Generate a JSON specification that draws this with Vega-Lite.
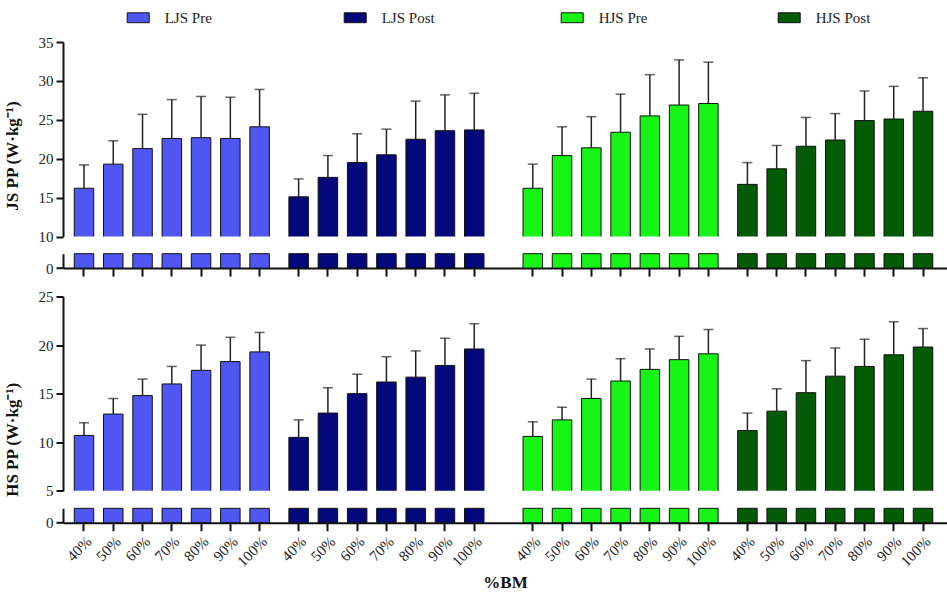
{
  "$schema": "https://vega.github.io/schema/vega-lite/v6.json",
  "padding": {"left": 3, "top": 6, "right": 0, "bottom": 0},
  "config": {
    "font": "Liberation Serif",
    "view": {"stroke": null},
    "axis": {
      "domainColor": "#111", "domainWidth": 2, "tickColor": "#111", "tickWidth": 2,
      "labelFont": "Liberation Serif", "labelFontSize": 15, "labelColor": "#222",
      "grid": false, "tickSize": 7, "labelPadding": 3, "labelOverlap": false
    },
    "legend": {"labelFont": "Liberation Serif", "labelFontSize": 15, "labelColor": "#222"}
  },
  "datasets": {
    "pp": [
      {"metric": "JS", "group": "LJS Pre", "bm": "40%", "id": "LJS Pre|40%", "mean": 16.2, "upper": 19.2},
      {"metric": "JS", "group": "LJS Pre", "bm": "50%", "id": "LJS Pre|50%", "mean": 19.3, "upper": 22.3},
      {"metric": "JS", "group": "LJS Pre", "bm": "60%", "id": "LJS Pre|60%", "mean": 21.3, "upper": 25.7},
      {"metric": "JS", "group": "LJS Pre", "bm": "70%", "id": "LJS Pre|70%", "mean": 22.6, "upper": 27.6},
      {"metric": "JS", "group": "LJS Pre", "bm": "80%", "id": "LJS Pre|80%", "mean": 22.7, "upper": 28.0},
      {"metric": "JS", "group": "LJS Pre", "bm": "90%", "id": "LJS Pre|90%", "mean": 22.6, "upper": 27.9},
      {"metric": "JS", "group": "LJS Pre", "bm": "100%", "id": "LJS Pre|100%", "mean": 24.1, "upper": 28.9},
      {"metric": "JS", "group": "LJS Post", "bm": "40%", "id": "LJS Post|40%", "mean": 15.1, "upper": 17.4},
      {"metric": "JS", "group": "LJS Post", "bm": "50%", "id": "LJS Post|50%", "mean": 17.6, "upper": 20.4},
      {"metric": "JS", "group": "LJS Post", "bm": "60%", "id": "LJS Post|60%", "mean": 19.5, "upper": 23.2},
      {"metric": "JS", "group": "LJS Post", "bm": "70%", "id": "LJS Post|70%", "mean": 20.5, "upper": 23.8},
      {"metric": "JS", "group": "LJS Post", "bm": "80%", "id": "LJS Post|80%", "mean": 22.5, "upper": 27.4},
      {"metric": "JS", "group": "LJS Post", "bm": "90%", "id": "LJS Post|90%", "mean": 23.6, "upper": 28.2},
      {"metric": "JS", "group": "LJS Post", "bm": "100%", "id": "LJS Post|100%", "mean": 23.7, "upper": 28.4},
      {"metric": "JS", "group": "HJS Pre", "bm": "40%", "id": "HJS Pre|40%", "mean": 16.2, "upper": 19.3},
      {"metric": "JS", "group": "HJS Pre", "bm": "50%", "id": "HJS Pre|50%", "mean": 20.4, "upper": 24.1},
      {"metric": "JS", "group": "HJS Pre", "bm": "60%", "id": "HJS Pre|60%", "mean": 21.4, "upper": 25.4},
      {"metric": "JS", "group": "HJS Pre", "bm": "70%", "id": "HJS Pre|70%", "mean": 23.4, "upper": 28.3},
      {"metric": "JS", "group": "HJS Pre", "bm": "80%", "id": "HJS Pre|80%", "mean": 25.5, "upper": 30.8},
      {"metric": "JS", "group": "HJS Pre", "bm": "90%", "id": "HJS Pre|90%", "mean": 26.9, "upper": 32.7},
      {"metric": "JS", "group": "HJS Pre", "bm": "100%", "id": "HJS Pre|100%", "mean": 27.1, "upper": 32.4},
      {"metric": "JS", "group": "HJS Post", "bm": "40%", "id": "HJS Post|40%", "mean": 16.7, "upper": 19.5},
      {"metric": "JS", "group": "HJS Post", "bm": "50%", "id": "HJS Post|50%", "mean": 18.7, "upper": 21.7},
      {"metric": "JS", "group": "HJS Post", "bm": "60%", "id": "HJS Post|60%", "mean": 21.6, "upper": 25.3},
      {"metric": "JS", "group": "HJS Post", "bm": "70%", "id": "HJS Post|70%", "mean": 22.4, "upper": 25.8},
      {"metric": "JS", "group": "HJS Post", "bm": "80%", "id": "HJS Post|80%", "mean": 24.9, "upper": 28.7},
      {"metric": "JS", "group": "HJS Post", "bm": "90%", "id": "HJS Post|90%", "mean": 25.1, "upper": 29.3},
      {"metric": "JS", "group": "HJS Post", "bm": "100%", "id": "HJS Post|100%", "mean": 26.1, "upper": 30.4},
      {"metric": "HS", "group": "LJS Pre", "bm": "40%", "id": "LJS Pre|40%", "mean": 10.7, "upper": 12.0},
      {"metric": "HS", "group": "LJS Pre", "bm": "50%", "id": "LJS Pre|50%", "mean": 12.9, "upper": 14.5},
      {"metric": "HS", "group": "LJS Pre", "bm": "60%", "id": "LJS Pre|60%", "mean": 14.8, "upper": 16.5},
      {"metric": "HS", "group": "LJS Pre", "bm": "70%", "id": "LJS Pre|70%", "mean": 16.0, "upper": 17.8},
      {"metric": "HS", "group": "LJS Pre", "bm": "80%", "id": "LJS Pre|80%", "mean": 17.4, "upper": 20.0},
      {"metric": "HS", "group": "LJS Pre", "bm": "90%", "id": "LJS Pre|90%", "mean": 18.3, "upper": 20.8},
      {"metric": "HS", "group": "LJS Pre", "bm": "100%", "id": "LJS Pre|100%", "mean": 19.3, "upper": 21.3},
      {"metric": "HS", "group": "LJS Post", "bm": "40%", "id": "LJS Post|40%", "mean": 10.5, "upper": 12.3},
      {"metric": "HS", "group": "LJS Post", "bm": "50%", "id": "LJS Post|50%", "mean": 13.0, "upper": 15.6},
      {"metric": "HS", "group": "LJS Post", "bm": "60%", "id": "LJS Post|60%", "mean": 15.0, "upper": 17.0},
      {"metric": "HS", "group": "LJS Post", "bm": "70%", "id": "LJS Post|70%", "mean": 16.2, "upper": 18.8},
      {"metric": "HS", "group": "LJS Post", "bm": "80%", "id": "LJS Post|80%", "mean": 16.7, "upper": 19.4},
      {"metric": "HS", "group": "LJS Post", "bm": "90%", "id": "LJS Post|90%", "mean": 17.9, "upper": 20.7},
      {"metric": "HS", "group": "LJS Post", "bm": "100%", "id": "LJS Post|100%", "mean": 19.6, "upper": 22.2},
      {"metric": "HS", "group": "HJS Pre", "bm": "40%", "id": "HJS Pre|40%", "mean": 10.6, "upper": 12.1},
      {"metric": "HS", "group": "HJS Pre", "bm": "50%", "id": "HJS Pre|50%", "mean": 12.3, "upper": 13.6},
      {"metric": "HS", "group": "HJS Pre", "bm": "60%", "id": "HJS Pre|60%", "mean": 14.5, "upper": 16.5},
      {"metric": "HS", "group": "HJS Pre", "bm": "70%", "id": "HJS Pre|70%", "mean": 16.3, "upper": 18.6},
      {"metric": "HS", "group": "HJS Pre", "bm": "80%", "id": "HJS Pre|80%", "mean": 17.5, "upper": 19.6},
      {"metric": "HS", "group": "HJS Pre", "bm": "90%", "id": "HJS Pre|90%", "mean": 18.5, "upper": 20.9},
      {"metric": "HS", "group": "HJS Pre", "bm": "100%", "id": "HJS Pre|100%", "mean": 19.1, "upper": 21.6},
      {"metric": "HS", "group": "HJS Post", "bm": "40%", "id": "HJS Post|40%", "mean": 11.2, "upper": 13.0},
      {"metric": "HS", "group": "HJS Post", "bm": "50%", "id": "HJS Post|50%", "mean": 13.2, "upper": 15.5},
      {"metric": "HS", "group": "HJS Post", "bm": "60%", "id": "HJS Post|60%", "mean": 15.1, "upper": 18.4},
      {"metric": "HS", "group": "HJS Post", "bm": "70%", "id": "HJS Post|70%", "mean": 16.8, "upper": 19.7},
      {"metric": "HS", "group": "HJS Post", "bm": "80%", "id": "HJS Post|80%", "mean": 17.8, "upper": 20.6},
      {"metric": "HS", "group": "HJS Post", "bm": "90%", "id": "HJS Post|90%", "mean": 19.0, "upper": 22.4},
      {"metric": "HS", "group": "HJS Post", "bm": "100%", "id": "HJS Post|100%", "mean": 19.8, "upper": 21.7}
    ]
  },
  "spacing": 11.5,
  "vconcat": [
    {
      "title": {"text": "JS PP (W·kg⁻¹)", "orient": "left", "anchor": "middle", "fontSize": 17, "fontWeight": "bold", "font": "Liberation Serif", "color": "#111", "offset": 16},
      "bounds": "flush",
      "spacing": 16.7,
      "vconcat": [
        {
          "width": 884, "height": 194.5,
          "data": {"name": "pp"},
          "transform": [{"filter": "datum.metric == 'JS'"}],
          "encoding": {
            "x": {"field": "id", "type": "nominal", "axis": null,
              "scale": {"paddingInner": 0, "paddingOuter": 0.805, "align": 0.405, "domain": ["s_a","LJS Pre|40%","s1","s2","LJS Pre|50%","s4","s5","LJS Pre|60%","s7","s8","LJS Pre|70%","s10","s11","LJS Pre|80%","s13","s14","LJS Pre|90%","s16","s17","LJS Pre|100%","s19","s20","s21","LJS Post|40%","s23","s24","LJS Post|50%","s26","s27","LJS Post|60%","s29","s30","LJS Post|70%","s32","s33","LJS Post|80%","s35","s36","LJS Post|90%","s38","s39","LJS Post|100%","s41","s42","s43","s44","s45","HJS Pre|40%","s47","s48","HJS Pre|50%","s50","s51","HJS Pre|60%","s53","s54","HJS Pre|70%","s56","s57","HJS Pre|80%","s59","s60","HJS Pre|90%","s62","s63","HJS Pre|100%","s65","s66","s67","HJS Post|40%","s69","s70","HJS Post|50%","s72","s73","HJS Post|60%","s75","s76","HJS Post|70%","s78","s79","HJS Post|80%","s81","s82","HJS Post|90%","s84","s85","HJS Post|100%","s_z"]}}
          },
          "layer": [
            {
              "mark": {"type": "bar", "width": 19.5, "stroke": "#111", "strokeWidth": 1, "clip": true},
              "encoding": {
                "y": {"field": "mean", "type": "quantitative", "scale": {"domain": [10, 35], "zero": false, "nice": false}, "axis": {"values": [10, 15, 20, 25, 30, 35], "title": null, "labelOverlap": false}},
                "color": {"field": "group", "type": "nominal",
                  "scale": {"domain": ["LJS Pre", "LJS Post", "HJS Pre", "HJS Post"], "range": ["#4f56f2", "#03087a", "#16f516", "#045b06"]},
                  "legend": {"orient": "none", "legendX": 63.7, "legendY": -36, "direction": "horizontal", "columns": 4, "gridAlign": "all", "columnPadding": 122, "title": null, "symbolType": "M-1,-0.45H1V0.45H-1Z", "symbolSize": 484, "symbolStrokeColor": "#111", "symbolStrokeWidth": 1, "symbolOpacity": 1, "labelFontSize": 15, "labelOffset": 15}}
              }
            },
            {
              "mark": {"type": "rule", "color": "#222", "strokeWidth": 1.5},
              "encoding": {"y": {"field": "mean", "type": "quantitative", "axis": {"values": [10, 15, 20, 25, 30, 35], "title": null, "labelOverlap": false}}, "y2": {"field": "upper"}}
            },
            {
              "mark": {"type": "tick", "color": "#222", "thickness": 1.5, "size": 10},
              "encoding": {"y": {"field": "upper", "type": "quantitative", "axis": {"values": [10, 15, 20, 25, 30, 35], "title": null, "labelOverlap": false}}}
            }
          ]
        },
        {
          "width": 884, "height": 14.4,
          "data": {"name": "pp"},
          "transform": [{"filter": "datum.metric == 'JS'"}],
          "mark": {"type": "bar", "width": 19.5, "stroke": "#111", "strokeWidth": 1},
          "encoding": {
            "x": {"field": "id", "type": "nominal",
              "axis": {"labels": false, "title": null, "tickSize": 8, "values": ["LJS Pre|40%","LJS Pre|50%","LJS Pre|60%","LJS Pre|70%","LJS Pre|80%","LJS Pre|90%","LJS Pre|100%","LJS Post|40%","LJS Post|50%","LJS Post|60%","LJS Post|70%","LJS Post|80%","LJS Post|90%","LJS Post|100%","HJS Pre|40%","HJS Pre|50%","HJS Pre|60%","HJS Pre|70%","HJS Pre|80%","HJS Pre|90%","HJS Pre|100%","HJS Post|40%","HJS Post|50%","HJS Post|60%","HJS Post|70%","HJS Post|80%","HJS Post|90%","HJS Post|100%"]},
              "scale": {"paddingInner": 0, "paddingOuter": 0.805, "align": 0.405, "domain": ["s_a","LJS Pre|40%","s1","s2","LJS Pre|50%","s4","s5","LJS Pre|60%","s7","s8","LJS Pre|70%","s10","s11","LJS Pre|80%","s13","s14","LJS Pre|90%","s16","s17","LJS Pre|100%","s19","s20","s21","LJS Post|40%","s23","s24","LJS Post|50%","s26","s27","LJS Post|60%","s29","s30","LJS Post|70%","s32","s33","LJS Post|80%","s35","s36","LJS Post|90%","s38","s39","LJS Post|100%","s41","s42","s43","s44","s45","HJS Pre|40%","s47","s48","HJS Pre|50%","s50","s51","HJS Pre|60%","s53","s54","HJS Pre|70%","s56","s57","HJS Pre|80%","s59","s60","HJS Pre|90%","s62","s63","HJS Pre|100%","s65","s66","s67","HJS Post|40%","s69","s70","HJS Post|50%","s72","s73","HJS Post|60%","s75","s76","HJS Post|70%","s78","s79","HJS Post|80%","s81","s82","HJS Post|90%","s84","s85","HJS Post|100%","s_z"]}},
            "y": {"datum": 1, "type": "quantitative", "scale": {"domain": [0, 1], "nice": false}, "axis": {"values": [0], "title": null}},
            "color": {"field": "group", "type": "nominal", "legend": null,
              "scale": {"domain": ["LJS Pre", "LJS Post", "HJS Pre", "HJS Post"], "range": ["#4f56f2", "#03087a", "#16f516", "#045b06"]}}
          }
        }
      ]
    },
    {
      "title": {"text": "HS PP (W·kg⁻¹)", "orient": "left", "anchor": "middle", "fontSize": 17, "fontWeight": "bold", "font": "Liberation Serif", "color": "#111", "offset": 16},
      "bounds": "flush",
      "spacing": 16.8,
      "vconcat": [
        {
          "width": 884, "height": 194.3,
          "data": {"name": "pp"},
          "transform": [{"filter": "datum.metric == 'HS'"}],
          "encoding": {
            "x": {"field": "id", "type": "nominal", "axis": null,
              "scale": {"paddingInner": 0, "paddingOuter": 0.805, "align": 0.405, "domain": ["s_a","LJS Pre|40%","s1","s2","LJS Pre|50%","s4","s5","LJS Pre|60%","s7","s8","LJS Pre|70%","s10","s11","LJS Pre|80%","s13","s14","LJS Pre|90%","s16","s17","LJS Pre|100%","s19","s20","s21","LJS Post|40%","s23","s24","LJS Post|50%","s26","s27","LJS Post|60%","s29","s30","LJS Post|70%","s32","s33","LJS Post|80%","s35","s36","LJS Post|90%","s38","s39","LJS Post|100%","s41","s42","s43","s44","s45","HJS Pre|40%","s47","s48","HJS Pre|50%","s50","s51","HJS Pre|60%","s53","s54","HJS Pre|70%","s56","s57","HJS Pre|80%","s59","s60","HJS Pre|90%","s62","s63","HJS Pre|100%","s65","s66","s67","HJS Post|40%","s69","s70","HJS Post|50%","s72","s73","HJS Post|60%","s75","s76","HJS Post|70%","s78","s79","HJS Post|80%","s81","s82","HJS Post|90%","s84","s85","HJS Post|100%","s_z"]}}
          },
          "layer": [
            {
              "mark": {"type": "bar", "width": 19.5, "stroke": "#111", "strokeWidth": 1, "clip": true},
              "encoding": {
                "y": {"field": "mean", "type": "quantitative", "scale": {"domain": [5, 25], "zero": false, "nice": false}, "axis": {"values": [5, 10, 15, 20, 25], "title": null, "labelOverlap": false}},
                "color": {"field": "group", "type": "nominal", "legend": null,
                  "scale": {"domain": ["LJS Pre", "LJS Post", "HJS Pre", "HJS Post"], "range": ["#4f56f2", "#03087a", "#16f516", "#045b06"]}}
              }
            },
            {
              "mark": {"type": "rule", "color": "#222", "strokeWidth": 1.5},
              "encoding": {"y": {"field": "mean", "type": "quantitative", "axis": {"values": [5, 10, 15, 20, 25], "title": null, "labelOverlap": false}}, "y2": {"field": "upper"}}
            },
            {
              "mark": {"type": "tick", "color": "#222", "thickness": 1.5, "size": 10},
              "encoding": {"y": {"field": "upper", "type": "quantitative", "axis": {"values": [5, 10, 15, 20, 25], "title": null, "labelOverlap": false}}}
            }
          ]
        },
        {
          "width": 884, "height": 14.4,
          "data": {"name": "pp"},
          "transform": [{"filter": "datum.metric == 'HS'"}],
          "mark": {"type": "bar", "width": 19.5, "stroke": "#111", "strokeWidth": 1},
          "encoding": {
            "x": {"field": "id", "type": "nominal",
              "axis": {"title": "%BM", "titleFontSize": 17, "titleFontWeight": "bold", "titleColor": "#111", "titlePadding": 5, "labelAngle": -45, "labelFontSize": 15, "labelExpr": "split(datum.value, '|')[1]", "tickSize": 8, "values": ["LJS Pre|40%","LJS Pre|50%","LJS Pre|60%","LJS Pre|70%","LJS Pre|80%","LJS Pre|90%","LJS Pre|100%","LJS Post|40%","LJS Post|50%","LJS Post|60%","LJS Post|70%","LJS Post|80%","LJS Post|90%","LJS Post|100%","HJS Pre|40%","HJS Pre|50%","HJS Pre|60%","HJS Pre|70%","HJS Pre|80%","HJS Pre|90%","HJS Pre|100%","HJS Post|40%","HJS Post|50%","HJS Post|60%","HJS Post|70%","HJS Post|80%","HJS Post|90%","HJS Post|100%"]},
              "scale": {"paddingInner": 0, "paddingOuter": 0.805, "align": 0.405, "domain": ["s_a","LJS Pre|40%","s1","s2","LJS Pre|50%","s4","s5","LJS Pre|60%","s7","s8","LJS Pre|70%","s10","s11","LJS Pre|80%","s13","s14","LJS Pre|90%","s16","s17","LJS Pre|100%","s19","s20","s21","LJS Post|40%","s23","s24","LJS Post|50%","s26","s27","LJS Post|60%","s29","s30","LJS Post|70%","s32","s33","LJS Post|80%","s35","s36","LJS Post|90%","s38","s39","LJS Post|100%","s41","s42","s43","s44","s45","HJS Pre|40%","s47","s48","HJS Pre|50%","s50","s51","HJS Pre|60%","s53","s54","HJS Pre|70%","s56","s57","HJS Pre|80%","s59","s60","HJS Pre|90%","s62","s63","HJS Pre|100%","s65","s66","s67","HJS Post|40%","s69","s70","HJS Post|50%","s72","s73","HJS Post|60%","s75","s76","HJS Post|70%","s78","s79","HJS Post|80%","s81","s82","HJS Post|90%","s84","s85","HJS Post|100%","s_z"]}},
            "y": {"datum": 1, "type": "quantitative", "scale": {"domain": [0, 1], "nice": false}, "axis": {"values": [0], "title": null}},
            "color": {"field": "group", "type": "nominal", "legend": null,
              "scale": {"domain": ["LJS Pre", "LJS Post", "HJS Pre", "HJS Post"], "range": ["#4f56f2", "#03087a", "#16f516", "#045b06"]}}
          }
        }
      ]
    }
  ]
}
